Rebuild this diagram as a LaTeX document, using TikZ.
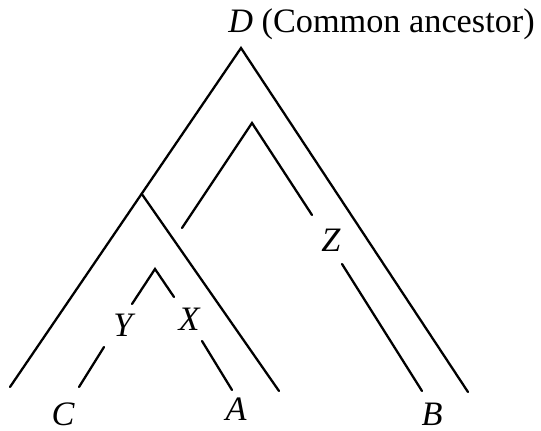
\documentclass[tikz,border=0pt]{standalone}
\usepackage{fontspec}
\setmainfont{Liberation Serif}
\usepackage{tikz}
\usetikzlibrary{calc}
\tikzset{
  br/.style={line width=1.3pt,line cap=round},
  lbl/.style={font=\fontsize{19.5}{21}\selectfont\itshape,inner sep=0pt}
}

\begin{document}
\begin{tikzpicture}[x=0.02cm,y=-0.02cm]
\useasboundingbox (0,0) rectangle (541,430);
% outer branch from the common ancestor
\coordinate (top) at (241,48);
\coordinate (cend) at (10,387);
\coordinate (bend) at (468,392);
\draw[br] (cend)--(top)--(bend);
% inner branch through Z
\coordinate (ztop) at (252,123);
\coordinate (zl) at (182,228);
\coordinate (zr) at (312,215);
\coordinate (zr2) at (342,264);
\coordinate (zb) at (422,391);
\draw[br] (zl)--(ztop)--(zr);
\draw[br] (zr2)--(zb);
% branch to A
\coordinate (xs) at ($(top)!0.43!(cend)$);
\coordinate (xa) at (279,391);
\draw[br] (xs)--(xa);
% X and Y
\coordinate (yxtop) at (155,269);
\coordinate (yl) at (132,304);
\coordinate (yl2) at (104,347);
\coordinate (yc) at (79,387);
\coordinate (xr) at (174,297);
\coordinate (xr2) at (202,341);
\coordinate (xa2) at (232,390);
\draw[br] (yl)--(yxtop)--(xr);
\draw[br] (yl2)--(yc);
\draw[br] (xr2)--(xa2);
% labels
\node[lbl,anchor=west] (D) at (228,24) {D \upshape(Common ancestor)};
\node[lbl] (Y) at (123,325) {Y};
\node[lbl] (X) at (189,319) {X};
\node[lbl] (Z) at (331,240) {Z};
\node[lbl] (C) at (63,414) {C};
\node[lbl] (A) at (236,409) {A};
\node[lbl] (B) at (432,414) {B};
\end{tikzpicture}
\end{document}
